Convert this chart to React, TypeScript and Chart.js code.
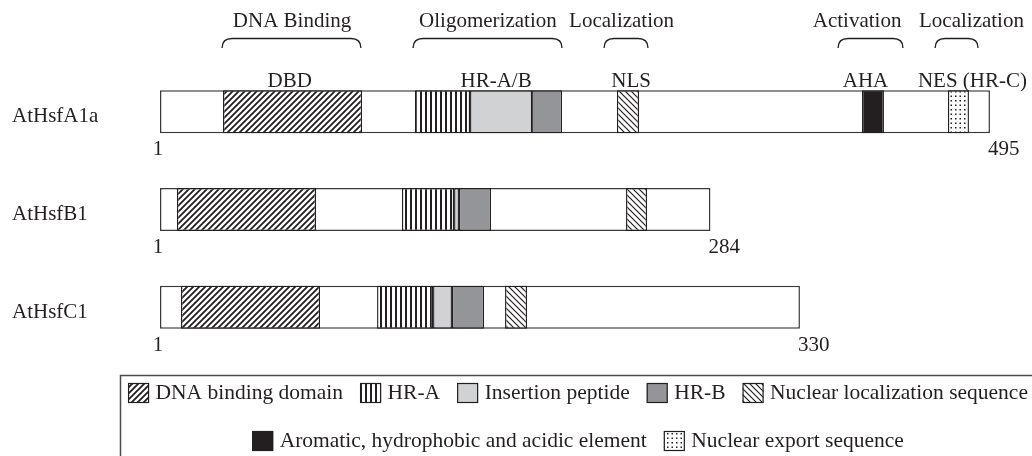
import React, { useEffect, useRef } from "react";
import { Chart, registerables } from "chart.js";

Chart.register(...registerables);

// ---------- data (schematic axis units; B1 and C1 drawn at residue scale, A1a compressed) ----------
const proteins = ["AtHsfA1a", "AtHsfB1", "AtHsfC1"];
const startLabels = ["1", "1", "1"];
const lengthLabels = ["495", "284", "330"];

const fullBar: [number, number][] = [[1, 427.7], [1, 284], [1, 330]];
const dbd: ([number, number] | null)[] = [[33.4, 104.9], [9.7, 81.2], [11.8, 83.3]];
const hrA: ([number, number] | null)[] = [[132.1, 160.4], [125.4, 152.2], [112.6, 141.4]];
const insertion: ([number, number] | null)[] = [[160.4, 192.3], [152.2, 154.7], [141.4, 151.1]];
const hrB: ([number, number] | null)[] = [[192.3, 207.7], [154.7, 171.2], [151.1, 167.6]];
const nls: ([number, number] | null)[] = [[235.9, 247.3], [240.6, 251.4], [178.4, 189.7]];
const aha: ([number, number] | null)[] = [[361.9, 373.2], null, null];
const nes: ([number, number] | null)[] = [[406.1, 416.9], null, null];

const groupTitles = ["DNA Binding", "Oligomerization", "Localization", "Activation", "Localization"];
const groupTitleCenters = [68.9, 169.6, 238.3, 359.4, 418.2];
const braceStarts = [32.9, 131.1, 229.3, 349.6, 399.5];
const braceEnds = [104.3, 207.7, 251.9, 383.0, 421.6];

const domainLabels = ["DBD", "HR-A/B", "NLS", "AHA", "NES (HR-C)"];
const domainLabelCenters = [67.7, 173.8, 243.2, 363.7, 418.7];

const legendRow1 = ["DNA binding domain", "HR-A", "Insertion peptide", "HR-B", "Nuclear localization sequence"];
const legendRow1Keys = ["dbd", "hrA", "ins", "hrB", "nls"];
const legendRow2 = ["Aromatic, hydrophobic and acidic element", "Nuclear export sequence"];
const legendRow2Keys = ["aha", "nes"];

// ---------- styles ----------
const INK = "#231f20";
const FONT = "21px 'Liberation Serif', 'Times New Roman', serif";
const LEGEND_FONT = "21.5px 'Liberation Serif', 'Times New Roman', serif";

function makePattern(ctx: CanvasRenderingContext2D, w: number, h: number, draw: (g: CanvasRenderingContext2D) => void) {
  const c = document.createElement("canvas");
  c.width = w;
  c.height = h;
  const g = c.getContext("2d")!;
  g.fillStyle = "#ffffff";
  g.fillRect(0, 0, w, h);
  draw(g);
  return ctx.createPattern(c, "repeat")!;
}

export default function App() {
  const ref = useRef<HTMLCanvasElement | null>(null);

  useEffect(() => {
    document.body.style.margin = "0";
    const canvas = ref.current!;
    const ctx = canvas.getContext("2d")!;

    const s = 6;
    const fwd = makePattern(ctx, s, s, (g) => {
      g.strokeStyle = INK;
      g.lineWidth = 1.8;
      g.beginPath();
      g.moveTo(-1, s + 1); g.lineTo(s + 1, -1);
      g.moveTo(-3, 3); g.lineTo(3, -3);
      g.moveTo(s - 3, s + 3); g.lineTo(s + 3, s - 3);
      g.stroke();
    });
    const back = makePattern(ctx, s, s, (g) => {
      g.strokeStyle = INK;
      g.lineWidth = 1.2;
      g.beginPath();
      g.moveTo(-1, -1); g.lineTo(s + 1, s + 1);
      g.moveTo(s - 3, -3); g.lineTo(s + 3, 3);
      g.moveTo(-3, s - 3); g.lineTo(3, s + 3);
      g.stroke();
    });
    const vert = makePattern(ctx, 5, 5, (g) => {
      g.fillStyle = INK;
      g.fillRect(0, 0, 2, 5);
    });
    const dots = makePattern(ctx, 9, 9, (g) => {
      g.fillStyle = "#222";
      [[1, 1], [5.5, 1], [1, 5.5], [5.5, 5.5]].forEach(([a, b]) => g.fillRect(a, b, 1.5, 1.5));
    });

    const fills: Record<string, any> = {
      dbd: fwd,
      hrA: vert,
      ins: "#d1d2d4",
      hrB: "#949598",
      nls: back,
      aha: INK,
      nes: dots,
    };

    const seg = (label: string, data: any[], key: string) => ({
      label,
      data,
      backgroundColor: fills[key],
      borderColor: INK,
      borderWidth: 1.4,
      borderSkipped: false as const,
      grouped: false,
      barThickness: 43,
      inflateAmount: 0,
    });

    const annot = {
      id: "annot",
      afterDraw(chart: any) {
        const c: CanvasRenderingContext2D = chart.ctx;
        const xs = chart.scales.x;
        const bgMeta = chart.getDatasetMeta(chart.data.datasets.length - 1);
        c.save();
        c.fillStyle = INK;
        c.strokeStyle = INK;
        c.font = FONT;
        c.textBaseline = "alphabetic";

        proteins.forEach((name, i) => {
          const el = bgMeta.data[i];
          const cy = el.y;
          const bottom = cy + el.height / 2;
          c.textAlign = "left";
          c.fillText(name, 12, cy + 10.5);
          c.textAlign = "center";
          c.fillText(startLabels[i], xs.getPixelForValue(fullBar[i][0]) - 2, bottom + 22);
          c.textAlign = "left";
          c.fillText(lengthLabels[i], xs.getPixelForValue(fullBar[i][1]) - 2, bottom + 22);
        });

        // group titles and braces
        c.textAlign = "center";
        groupTitles.forEach((t, i) => c.fillText(t, xs.getPixelForValue(groupTitleCenters[i]), 27));
        c.lineWidth = 1.3;
        braceStarts.forEach((b, i) => {
          const x1 = xs.getPixelForValue(b);
          const x2 = xs.getPixelForValue(braceEnds[i]);
          const top = 38.5, end = 48, r = 10;
          c.beginPath();
          c.moveTo(x1, end);
          c.quadraticCurveTo(x1, top, x1 + r, top);
          c.lineTo(x2 - r, top);
          c.quadraticCurveTo(x2, top, x2, end);
          c.stroke();
        });
        domainLabels.forEach((t, i) => c.fillText(t, xs.getPixelForValue(domainLabelCenters[i]), 87));

        // legend
        c.lineWidth = 1.5;
        c.strokeStyle = "#4a4a4a";
        c.strokeRect(120.5, 375.5, 916, 100);
        c.font = LEGEND_FONT;
        const drawRow = (labels: string[], keys: string[], baseline: number) => {
          const sw = 21, sh = 20, gapT = 6.5, gapI = 17;
          const widths = labels.map((l) => c.measureText(l).width);
          const total = widths.reduce((a, w) => a + sw + gapT + w, 0) + gapI * (labels.length - 1);
          let x = 578 - total / 2;
          labels.forEach((l, i) => {
            const top = baseline - 16;
            c.fillStyle = fills[keys[i]];
            c.fillRect(x, top, sw, sh);
            c.strokeStyle = INK;
            c.lineWidth = 1.2;
            c.strokeRect(x + 0.5, top + 0.5, sw - 1, sh - 1);
            c.fillStyle = INK;
            c.textAlign = "left";
            c.fillText(l, x + sw + gapT, baseline);
            x += sw + gapT + widths[i] + gapI;
          });
        };
        drawRow(legendRow1, legendRow1Keys, 399);
        drawRow(legendRow2, legendRow2Keys, 447);
        c.restore();
      },
    };

    const chart = new Chart(canvas, {
      type: "bar",
      data: {
        labels: proteins,
        datasets: [
          seg("DNA binding domain", dbd, "dbd"),
          seg("HR-A", hrA, "hrA"),
          seg("Insertion peptide", insertion, "ins"),
          seg("HR-B", hrB, "hrB"),
          seg("Nuclear localization sequence", nls, "nls"),
          seg("Aromatic, hydrophobic and acidic element", aha, "aha"),
          seg("Nuclear export sequence", nes, "nes"),
          {
            label: "protein",
            data: fullBar,
            backgroundColor: "#ffffff",
            borderColor: "#3a3a3a",
            borderWidth: 1.5,
            borderSkipped: false as const,
            grouped: false,
            barThickness: 43,
            inflateAmount: 0,
          },
        ],
      },
      options: {
        indexAxis: "y",
        responsive: false,
        animation: false,
        events: [],
        layout: { padding: { left: 160, right: 8.4, top: 63, bottom: 100 } },
        scales: {
          x: { type: "linear", min: 1, max: 445, display: false },
          y: { type: "category", display: false, offset: true },
        },
        plugins: { legend: { display: false }, tooltip: { enabled: false } },
      },
      plugins: [annot],
    } as any);

    return () => chart.destroy();
  }, []);

  return (
    <div style={{ width: 1032, height: 456, background: "#fff" }}>
      <canvas ref={ref} width={1032} height={456} style={{ display: "block" }} />
    </div>
  );
}
